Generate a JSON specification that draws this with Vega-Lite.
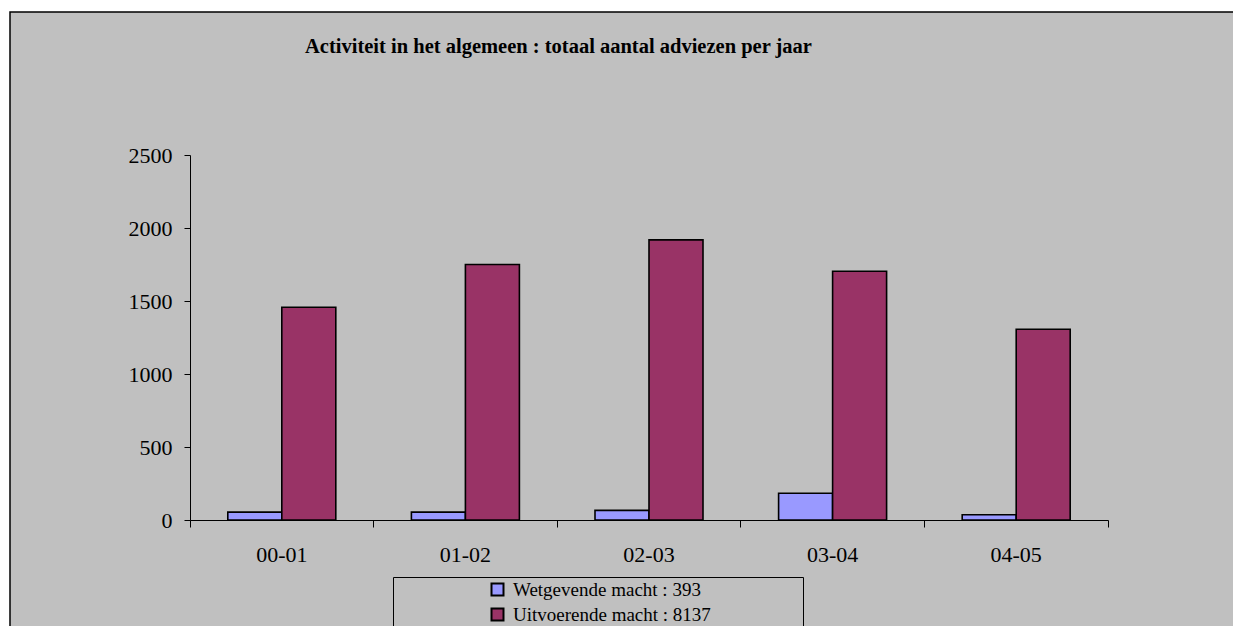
{
  "$schema": "https://vega.github.io/schema/vega-lite/v6.json",
  "autosize": {"type": "none"},
  "width": 1225,
  "height": 616,
  "padding": {"left": 10, "top": 12, "right": 0, "bottom": 0},
  "background": "#FFFFFF",
  "title": {
    "text": "Activiteit in het algemeen : totaal aantal adviezen per jaar",
    "anchor": "middle",
    "frame": "group",
    "dx": -64,
    "offset": -61,
    "baseline": "alphabetic",
    "font": "Liberation Serif",
    "fontSize": 20.5,
    "fontWeight": "bold",
    "color": "#000000"
  },
  "data": {
    "values": [
      {"jaar": "00-01", "macht": "Wetgevende macht : 393", "adviezen": 54},
      {"jaar": "01-02", "macht": "Wetgevende macht : 393", "adviezen": 54},
      {"jaar": "02-03", "macht": "Wetgevende macht : 393", "adviezen": 66},
      {"jaar": "03-04", "macht": "Wetgevende macht : 393", "adviezen": 183},
      {"jaar": "04-05", "macht": "Wetgevende macht : 393", "adviezen": 36},
      {"jaar": "00-01", "macht": "Uitvoerende macht : 8137", "adviezen": 1457},
      {"jaar": "01-02", "macht": "Uitvoerende macht : 8137", "adviezen": 1750},
      {"jaar": "02-03", "macht": "Uitvoerende macht : 8137", "adviezen": 1919},
      {"jaar": "03-04", "macht": "Uitvoerende macht : 8137", "adviezen": 1704},
      {"jaar": "04-05", "macht": "Uitvoerende macht : 8137", "adviezen": 1307}
    ]
  },
  "mark": {"type": "bar", "stroke": "#000000", "strokeWidth": 1.6},
  "encoding": {
    "x": {
      "field": "jaar",
      "type": "nominal",
      "sort": null,
      "scale": {"range": [180, 1098], "paddingInner": 0, "paddingOuter": 0},
      "axis": {
        "title": null,
        "orient": "bottom",
        "offset": -108,
        "labelAngle": 0,
        "bandPosition": 1,
        "tickExtra": true,
        "tickSize": 7,
        "labelPadding": 17,
        "labelFont": "Liberation Serif",
        "labelFontSize": 22,
        "labelColor": "#000000",
        "domainColor": "#000000",
        "tickColor": "#000000"
      }
    },
    "xOffset": {
      "field": "macht",
      "type": "nominal",
      "sort": ["Wetgevende macht : 393", "Uitvoerende macht : 8137"],
      "scale": {"paddingInner": 0, "paddingOuter": 0.7}
    },
    "y": {
      "field": "adviezen",
      "type": "quantitative",
      "scale": {"domain": [0, 2500], "range": [508, 143], "nice": false},
      "axis": {
        "title": null,
        "orient": "left",
        "offset": -180,
        "values": [0, 500, 1000, 1500, 2000, 2500],
        "format": "d",
        "grid": false,
        "tickSize": 6,
        "labelPadding": 12,
        "labelFont": "Liberation Serif",
        "labelFontSize": 22,
        "labelColor": "#000000",
        "domainColor": "#000000",
        "tickColor": "#000000"
      }
    },
    "color": {
      "field": "macht",
      "type": "nominal",
      "sort": ["Wetgevende macht : 393", "Uitvoerende macht : 8137"],
      "scale": {"range": ["#9999FF", "#993366"]},
      "legend": {
        "orient": "none",
        "legendX": 383,
        "legendY": 565,
        "title": "\u00a0",
        "titleOrient": "right",
        "titlePadding": 89,
        "titleFontSize": 19,
        "padding": 3,
        "rowPadding": 4,
        "symbolType": "square",
        "symbolSize": 144,
        "symbolStrokeColor": "#000000",
        "symbolStrokeWidth": 2,
        "symbolOffset": 92,
        "labelOffset": 6,
        "labelFont": "Liberation Serif",
        "labelFontSize": 19,
        "labelColor": "#000000",
        "labelLimit": 400,
        "strokeColor": "#000000"
      }
    }
  },
  "config": {
    "view": {"fill": "#C0C0C0", "stroke": "#000000", "strokeWidth": 1.5}
  }
}
